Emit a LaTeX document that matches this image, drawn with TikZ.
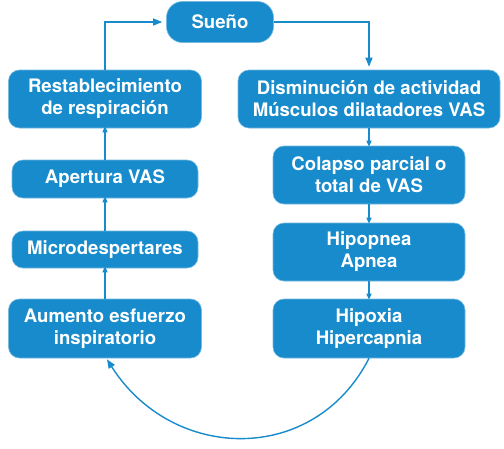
\documentclass[tikz,border=0pt]{standalone}
\usepackage{fontspec}
\setmainfont{TeX Gyre Heros}
\usetikzlibrary{arrows.meta}
\definecolor{vblue}{HTML}{178BCB}
\begin{document}
\begin{tikzpicture}[x=1pt,y=-1pt,
  box/.style={fill=vblue,draw=vblue!60!white,line width=0.6pt,rounded corners=11pt,
    text=white,font=\bfseries\fontsize{18.6}{22}\selectfont,align=center,inner sep=0pt},
  conn/.style={draw=vblue,line width=1.4pt,-{Triangle[length=9pt,width=7pt]}},
  shortconn/.style={draw=vblue,line width=1.4pt,-{Triangle[length=6pt,width=5pt]}}]
\useasboundingbox (0,0) rectangle (504,448);
\node[box,minimum width=107pt,minimum height=41pt,rounded corners=16pt] (sueno) at (220,22) {Sueño};
\node[box,minimum width=193pt,minimum height=58pt] (rest) at (105,99) {Restablecimiento\\de respiración};
\node[box,minimum width=262pt,minimum height=58pt] (dism) at (369,99) {Disminución de actividad\\Músculos dilatadores VAS};
\node[box,minimum width=186pt,minimum height=38pt] (aper) at (105,179) {Apertura VAS};
\node[box,minimum width=186pt,minimum height=37pt] (micro) at (105,249.5) {Microdespertares};
\node[box,minimum width=193pt,minimum height=59pt] (aum) at (105,328.5) {Aumento esfuerzo\\inspiratorio};
\node[box,minimum width=192pt,minimum height=58pt] (colap) at (369,175) {Colapso parcial o\\total de VAS};
\node[box,minimum width=192pt,minimum height=58pt] (hipo) at (369,252) {Hipopnea\\Apnea};
\node[box,minimum width=192pt,minimum height=59pt] (hipox) at (369,328.5) {Hipoxia\\Hipercapnia};
\draw[conn] (rest.north) |- ([xshift=-4pt]sueno.west);
\draw[conn] (sueno.east) -| ([yshift=3pt]dism.north);
\draw[shortconn] (aper.north) -- ([yshift=2pt]rest.south);
\draw[shortconn] (micro.north) -- ([yshift=2pt]aper.south);
\draw[shortconn] (aum.north) -- ([yshift=2pt]micro.south);
\draw[shortconn] (dism.south) -- ([yshift=-1pt]colap.north);
\draw[shortconn] (colap.south) -- ([yshift=-1pt]hipo.north);
\draw[shortconn] (hipo.south) -- ([yshift=-1pt]hipox.north);
\draw[conn] (hipox.south) .. controls (314,466) and (172,462) .. ([xshift=2pt,yshift=-1pt]aum.south);
\end{tikzpicture}
\end{document}
